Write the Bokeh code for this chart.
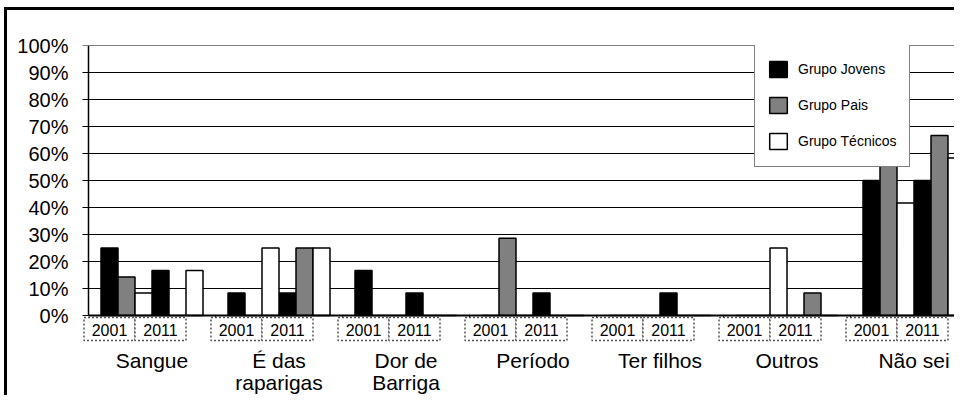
from bokeh.plotting import figure
from bokeh.models import Range1d, FixedTicker, PrintfTickFormatter, ColumnDataSource
from bokeh.core.properties import value
from bokeh.embed import file_html
from bokeh.resources import INLINE

# ---------------- data ----------------
categories = ["Sangue", "É das\nraparigas", "Dor de\nBarriga", "Período", "Ter filhos", "Outros", "Não sei"]
years = ["2001", "2011"]
groups = ["Grupo Jovens", "Grupo Pais", "Grupo Técnicos"]
jovens_2001 = [25.0, 8.3, 16.7, 0.0, 0.0, 0.0, 50.0]
jovens_2011 = [16.7, 8.3, 8.3, 8.3, 8.3, 0.0, 50.0]
pais_2001 = [14.3, 0.0, 0.0, 28.6, 0.0, 0.0, 57.1]
pais_2011 = [0.0, 25.0, 0.0, 0.0, 0.0, 8.3, 66.7]
tecnicos_2001 = [8.3, 25.0, 0.0, 0.0, 0.0, 25.0, 41.7]
tecnicos_2011 = [16.7, 25.0, 0.0, 0.0, 0.0, 0.0, 58.3]
y_ticks = [0, 10, 20, 30, 40, 50, 60, 70, 80, 90, 100]

series = {
    "Grupo Jovens": (jovens_2001, jovens_2011),
    "Grupo Pais": (pais_2001, pais_2011),
    "Grupo Técnicos": (tecnicos_2001, tecnicos_2011),
}
colors = {"Grupo Jovens": "#000000", "Grupo Pais": "#808080", "Grupo Técnicos": "#ffffff"}

# ---------------- layout constants ----------------
FONT = "Liberation Sans"
PX = 127.0            # pixels per category
YPX = 2.7             # pixels per percent
BAR_W = 17.0 / PX     # bar width in category units
n = len(categories)

p = figure(width=950, height=388, output_backend="svg", toolbar_location=None,
           x_range=Range1d(-8 / PX, 869 / PX), y_range=Range1d(-83 / YPX, 100),
           x_axis_location=None, min_border_left=73, min_border_right=0,
           min_border_top=35, min_border_bottom=0,
           styles={"border-top": "3px solid black", "border-left": "3px solid black",
                   "margin-top": "7px", "margin-left": "4px"})
p.outline_line_color = None
p.xgrid.visible = False
p.ygrid.visible = False
p.background_fill_color = "white"
p.border_fill_color = "white"

# y axis: labels only, lines drawn as glyphs
ax = p.yaxis[0]
ax.ticker = FixedTicker(ticks=y_ticks)
ax.formatter = PrintfTickFormatter(format="%d%%")
ax.major_tick_out = 0
ax.major_tick_in = 0
ax.minor_tick_out = 0
ax.minor_tick_in = 0
ax.axis_line_color = None
ax.major_label_standoff = 12
ax.major_label_text_font = FONT
ax.major_label_text_font_size = "20px"
ax.major_label_text_color = "black"

x_right = 7.2
# gridlines
p.segment(x0=[0] * 10, y0=y_ticks[1:], x1=[x_right] * 10, y1=y_ticks[1:],
          line_color="black", line_width=1)

# bars
for gi, g in enumerate(groups):
    xs, tops = [], []
    for yi, vals in enumerate(series[g]):
        for ci in range(n):
            k = yi * 3 + gi
            xs.append(ci + 0.5 + (k - 2.5) * BAR_W)
            tops.append(vals[ci])
    src = ColumnDataSource(dict(x=xs, top=tops))
    p.vbar(x="x", top="top", bottom=0, width=BAR_W, source=src,
           fill_color=colors[g], line_color="black", line_width=1.5,
           legend_label=g)

# axes lines
p.segment(x0=[0], y0=[0], x1=[0], y1=[100], line_color="black", line_width=1.5)
p.segment(x0=[-6 / PX] * len(y_ticks), y0=y_ticks, x1=[0] * len(y_ticks), y1=y_ticks,
          line_color="black", line_width=1)
p.segment(x0=[0], y0=[0], x1=[x_right], y1=[0], line_color="black", line_width=2)
# category boundary ticks
p.segment(x0=list(range(1, n)), y0=[0] * (n - 1), x1=list(range(1, n)), y1=[-8 / YPX] * (n - 1),
          line_color="black", line_width=1)

# year boxes + labels
bx, bl = [], []
for ci in range(n):
    for yi, yr in enumerate(years):
        center = ci + 0.5 + (3 * yi - 1.5) * BAR_W - 17 / PX
        bx.append(center)
        bl.append(yr)
box_y = -(2 + 23 / 2) / YPX
p.rect(x=bx, y=[box_y] * len(bx), width=3 * BAR_W, height=23 / YPX,
       fill_color="white", line_color="#555555", line_width=1.5, line_dash="2 2")
p.text(x=bx, y=[box_y - 0.3] * len(bx), text=bl, text_align="center", text_baseline="middle",
       text_font=value(FONT), text_font_size="16px", text_color="black")

# category labels (possibly two lines)
tx, ty, tt = [], [], []
for ci, c in enumerate(categories):
    for li, line in enumerate(c.split("\n")):
        tx.append(ci + 0.5)
        ty.append(-(45 + 22 * li) / YPX)
        tt.append(line)
p.text(x=tx, y=ty, text=tt, text_align="center", text_baseline="alphabetic",
       text_font=value(FONT), text_font_size="21px", text_color="black")

# legend
lg = p.legend[0]
lg.location = (674, 231)
lg.border_line_color = "black"
lg.border_line_width = 1
lg.background_fill_color = "white"
lg.background_fill_alpha = 1.0
lg.padding = 12
lg.spacing = 10
lg.margin = 0
lg.glyph_width = 22
lg.glyph_height = 20
lg.label_height = 26
lg.label_standoff = 9
lg.label_text_font = FONT
lg.label_text_font_size = "14px"
lg.label_text_color = "black"

open("out.html", "w").write(file_html(p, INLINE))
